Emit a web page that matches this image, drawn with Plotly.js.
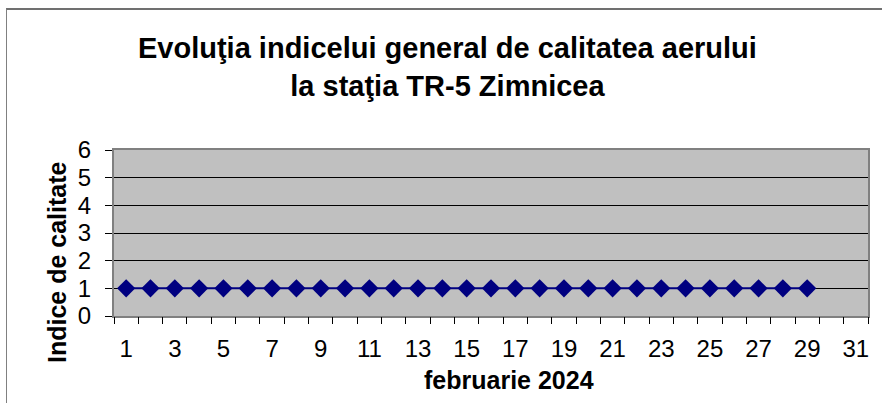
<!DOCTYPE html>
<html>
<head>
<meta charset="utf-8">
<script src="https://cdn.plot.ly/plotly-3.0.1.min.js"></script>
<style>
html,body{margin:0;padding:0;background:#fff;}
#wrap{position:relative;width:882px;height:403px;overflow:hidden;}
#chart{width:882px;height:403px;}
#frame{position:absolute;left:6px;top:8px;width:900px;height:420px;border-left:1.5px solid #808080;border-top:2px solid #707070;pointer-events:none;}
</style>
</head>
<body>
<div id="wrap"><div id="chart"></div><div id="frame"></div></div>
<script>
var dataDays = [1,2,3,4,5,6,7,8,9,10,11,12,13,14,15,16,17,18,19,20,21,22,23,24,25,26,27,28,29];
var indexValues = [1,1,1,1,1,1,1,1,1,1,1,1,1,1,1,1,1,1,1,1,1,1,1,1,1,1,1,1,1];
var xTickLabels = [1,3,5,7,9,11,13,15,17,19,21,23,25,27,29,31];
var yTicks = [0,1,2,3,4,5,6];
var boundaries = [];
for (var b = 0; b <= 31; b++) boundaries.push(b + 0.5);

var font = 'Liberation Sans, Arial, sans-serif';

var trace = {
  x: dataDays, y: indexValues, type: 'scatter', mode: 'lines+markers',
  line: {color: '#000080', width: 2},
  marker: {symbol: 'diamond', size: 14, color: '#000080'},
  hoverinfo: 'x+y'
};
var dummy = {x: [0.5], y: [0], xaxis: 'x2', yaxis: 'y', mode: 'markers', marker: {opacity: 0}, hoverinfo: 'skip', showlegend: false};

var layout = {
  width: 882, height: 403,
  margin: {l: 114, r: 14, t: 150, b: 87},
  paper_bgcolor: '#ffffff', plot_bgcolor: '#c0c0c0',
  showlegend: false,
  annotations: [
    {text: '<b>Evoluţia indicelui general de calitatea aerului<br>la staţia TR-5 Zimnicea</b>',
     xref: 'paper', yref: 'paper', x: (447-114)/754, y: (316-66.5)/166,
     xanchor: 'center', yanchor: 'middle', showarrow: false, align: 'center',
     font: {family: font, size: 29, color: '#000'}},
    {text: '<b>februarie 2024</b>', xref: 'paper', yref: 'paper',
     x: (509-114)/754, y: (316-380)/166, xanchor: 'center', yanchor: 'middle', showarrow: false,
     font: {family: font, size: 25, color: '#000'}},
    {text: '<b>Indice de calitate</b>', xref: 'paper', yref: 'paper', textangle: -90,
     x: (57-114)/754, y: (316-262)/166, xanchor: 'center', yanchor: 'middle', showarrow: false,
     font: {family: font, size: 25, color: '#000'}}
  ],
  xaxis: {
    range: [0.5, 31.5], tickvals: xTickLabels, ticktext: xTickLabels.map(String),
    ticks: '', showgrid: false, zeroline: false, ticklabelstandoff: 10,
    showline: true, linecolor: '#808080', linewidth: 2, mirror: true,
    tickfont: {family: font, size: 24, color: '#000'},
    fixedrange: true
  },
  xaxis2: {
    overlaying: 'x', range: [0.5, 31.5], tickvals: boundaries,
    ticks: 'outside', ticklen: 7, tickcolor: '#000', tickwidth: 1,
    showticklabels: false, showgrid: false, zeroline: false, showline: false,
    fixedrange: true
  },
  yaxis: {
    range: [0, 6], tickvals: yTicks, ticks: 'outside', ticklen: 7, tickcolor: '#000',
    showgrid: true, gridcolor: '#000', gridwidth: 1, zeroline: false, ticklabelstandoff: 9,
    showline: true, linecolor: '#808080', linewidth: 2, mirror: true,
    tickfont: {family: font, size: 24, color: '#000'},
    fixedrange: true
  }
};
Plotly.newPlot('chart', [trace, dummy], layout, {displayModeBar: false, staticPlot: true});
</script>
</body>
</html>
